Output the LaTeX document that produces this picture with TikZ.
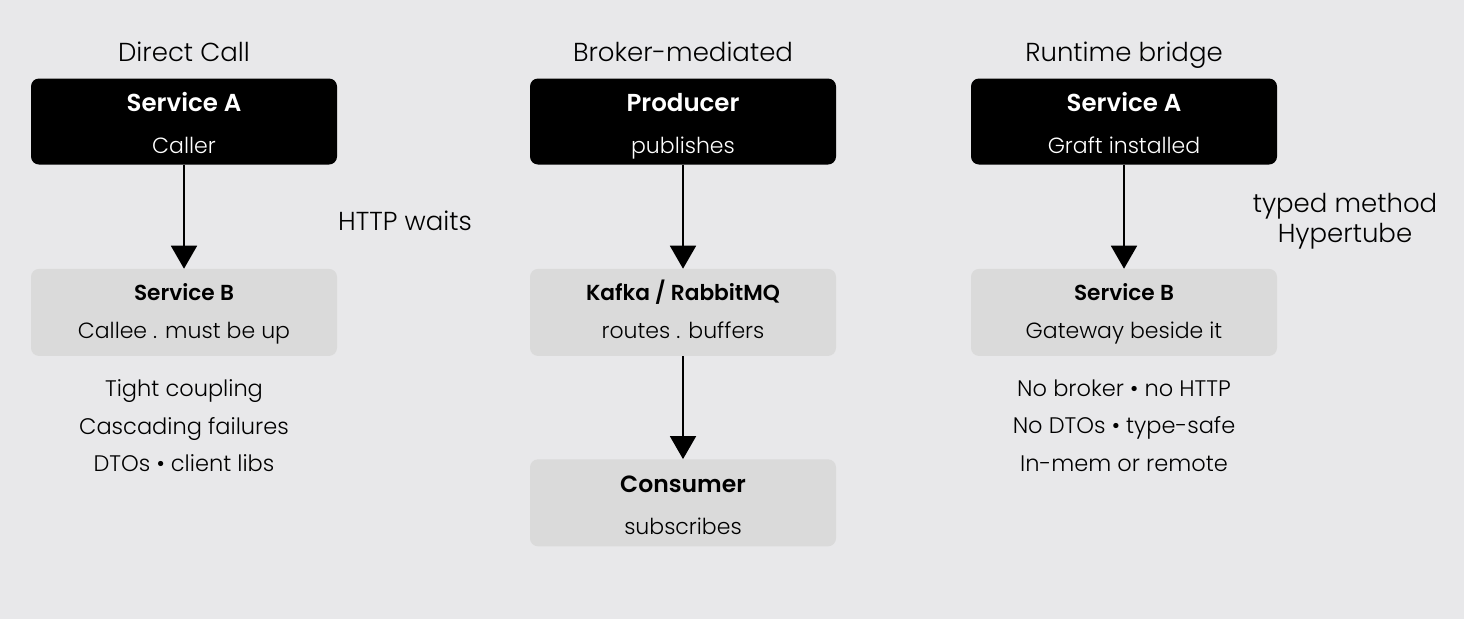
\documentclass[tikz,border=0pt]{standalone}
\usepackage{fontspec}
\setmainfont{Poppins}[UprightFont=* Light, BoldFont=* SemiBold]
\usetikzlibrary{positioning,arrows.meta}
\definecolor{canvas}{HTML}{E8E8EA}
\definecolor{boxgray}{HTML}{DADADA}
\tikzset{
    darkbox/.style={rectangle, rounded corners=8pt, fill=black, text=white, minimum width=306pt, minimum height=86pt, inner sep=0pt, align=center, font=\fontsize{22}{42}\selectfont},
    lightbox/.style={rectangle, rounded corners=8pt, fill=boxgray, text=black, minimum width=306pt, minimum height=87pt, inner sep=0pt, align=center, font=\fontsize{22}{38}\selectfont},
    coltitle/.style={inner sep=0pt, font=\fontsize{26}{30}\selectfont},
    notes/.style={inner sep=0pt, align=center, font=\fontsize{22.5}{37.5}\selectfont},
    line/.style={-{Triangle[width=26pt,length=23pt]}, line width=1.8pt},
    edgelabel/.style={midway, xshift=221pt, align=center, inner sep=0pt, font=\fontsize{26}{30}\selectfont},
}
% struts keep both text lines of a box at fixed heights
\newcommand{\darkstrut}{\rule[-7pt]{0pt}{35pt}}
\newcommand{\lightstrut}{\rule[-7pt]{0pt}{28pt}}
\newcommand{\bighead}[1]{{\fontsize{24.5}{42}\selectfont\bfseries #1}}
\newcommand{\smallhead}[1]{{\fontsize{21.7}{38}\selectfont\bfseries #1}}

\begin{document}
\begin{tikzpicture}[x=1pt, y=-1pt]

    \fill[canvas] (0,0) rectangle (1464,619);

    % Direct call
    \node[darkbox] (sa1) at (184,121.5) {\darkstrut\bighead{Service A}\\Caller\darkstrut};
    \node[lightbox, below=104pt of sa1] (sb1) {\lightstrut\smallhead{Service B}\\Callee . must be up\lightstrut};
    \node[coltitle, above=17pt of sa1, anchor=base] (t1) {Direct Call};
    \node[notes, below=23.5pt of sb1] (n1) {Tight coupling\\Cascading failures\\DTOs • client libs};

    % Broker-mediated
    \node[darkbox] (prod) at (683,121.5) {\darkstrut\bighead{Producer}\\publishes\darkstrut};
    \node[lightbox, below=104pt of prod] (broker) {\lightstrut\smallhead{Kafka / RabbitMQ}\\routes . buffers\lightstrut};
    \node[lightbox, below=103pt of broker, font=\fontsize{22}{42}\selectfont] (cons) {\darkstrut{\fontsize{23.5}{42}\selectfont\bfseries Consumer}\\subscribes\darkstrut};
    \node[coltitle, above=17pt of prod, anchor=base] (t2) {Broker-mediated};

    % Runtime bridge
    \node[darkbox] (sa3) at (1124,121.5) {\darkstrut\bighead{Service A}\\Graft installed\darkstrut};
    \node[lightbox, below=104pt of sa3] (sb3) {\lightstrut\smallhead{Service B}\\Gateway beside it\lightstrut};
    \node[coltitle, above=17pt of sa3, anchor=base] (t3) {Runtime bridge};
    \node[notes, below=23.5pt of sb3] (n3) {No broker • no HTTP\\No DTOs • type-safe\\In-mem or remote};

    % Lines
    \draw[line] (sa1) -- (sb1) node[edgelabel, yshift=-4pt] {HTTP waits};
    \draw[line] (prod) -- (broker);
    \draw[line] (broker) -- (cons);
    \draw[line] (sa3) -- (sb3) node[edgelabel, yshift=-5pt] {typed method\\Hypertube};

\end{tikzpicture}
\end{document}
